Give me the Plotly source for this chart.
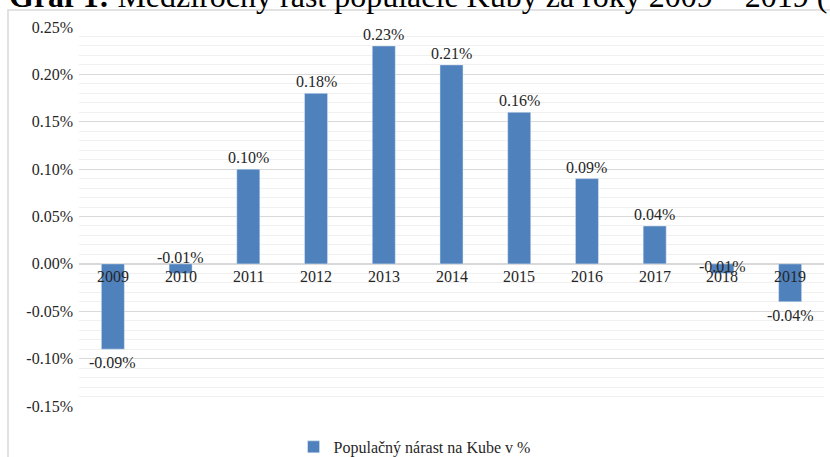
import plotly.graph_objects as go

years = ["2009", "2010", "2011", "2012", "2013", "2014", "2015", "2016", "2017", "2018", "2019"]
growth = [-0.09, -0.01, 0.10, 0.18, 0.23, 0.21, 0.16, 0.09, 0.04, -0.01, -0.04]
value_labels = ["-0.09%", "-0.01%", "0.10%", "0.18%", "0.23%", "0.21%", "0.16%", "0.09%", "0.04%", "-0.01%", "-0.04%"]
y_ticks = [-0.15, -0.10, -0.05, 0.00, 0.05, 0.10, 0.15, 0.20, 0.25]
y_tick_labels = ["-0.15%", "-0.10%", "-0.05%", "0.00%", "0.05%", "0.10%", "0.15%", "0.20%", "0.25%"]
series_name = "Populačný nárast na Kube v %"
title_bold = "Graf 1:"
title_rest = " Medziročný rast populácie Kuby za roky 2009 – 2019 ("

FONT = "Liberation Serif"
BAR = "#4F81BD"
TXT = "#262626"

fig = go.Figure()
fig.add_trace(go.Bar(
    x=years, y=growth, name=series_name, marker_color=BAR,
    width=0.34, showlegend=True, hoverinfo="x+y",
))

annotations = []
# category labels next to the zero line
for i, yr in enumerate(years):
    annotations.append(dict(x=i, y=0, xref="x", yref="y", text=yr, showarrow=False,
                            yanchor="top", yshift=-2, font=dict(family=FONT, size=16, color=TXT)))
# data labels
for i, (yr, v, lab) in enumerate(zip(years, growth, value_labels)):
    if yr == "2010":
        a = dict(y=0, yanchor="bottom", yshift=-4)
    elif yr == "2018":
        a = dict(y=0, yanchor="middle", yshift=-3)
    elif v >= 0:
        a = dict(y=v, yanchor="bottom", yshift=1)
    else:
        a = dict(y=v, yanchor="top", yshift=-3)
    annotations.append(dict(x=i, xref="x", yref="y", text=lab, showarrow=False,
                            font=dict(family=FONT, size=16, color=TXT), **a))
# cropped title at the very top
annotations.append(dict(x=-0.097, y=1.028, xref="paper", yref="paper", xanchor="left", yanchor="bottom",
                        text="<b>" + title_bold + "</b>" + title_rest, showarrow=False,
                        font=dict(family=FONT, size=32, color="#000000")))

fig.update_layout(
    width=830, height=457,
    margin=dict(l=79, r=6, t=27, b=51, autoexpand=False),
    paper_bgcolor="white", plot_bgcolor="white",
    font=dict(family=FONT, size=16, color=TXT),
    annotations=annotations,
    showlegend=True,
    legend=dict(orientation="h", x=0.288, xanchor="left", y=-0.108, yanchor="middle",
                font=dict(family=FONT, size=16, color=TXT), itemwidth=30),
    shapes=[dict(type="rect", xref="paper", yref="paper", x0=-0.0953, x1=1.2, y0=-0.3, y1=1.0449,
                 line=dict(color="#D9D9D9", width=1.5), fillcolor="rgba(0,0,0,0)", layer="below")],
    xaxis=dict(type="category", range=[-0.5, len(years) - 0.5], showticklabels=False, showgrid=False,
               zeroline=False, showline=False, ticks="", automargin=False, fixedrange=True),
    yaxis=dict(range=[-0.15, 0.25], tickvals=y_ticks, ticktext=y_tick_labels, automargin=False,
               showgrid=True, gridcolor="#D9D9D9", gridwidth=1,
               zeroline=True, zerolinecolor="#D9D9D9", zerolinewidth=1.5,
               minor=dict(dtick=0.01, showgrid=True, gridcolor="#F0F0F0", gridwidth=1),
               ticks="", tickfont=dict(family=FONT, size=16, color=TXT), showline=False,
               ticklabelstandoff=5, fixedrange=True),
)

fig.write_html("out.html", config={"displayModeBar": False},
               post_script="document.body.style.margin='0px';")
